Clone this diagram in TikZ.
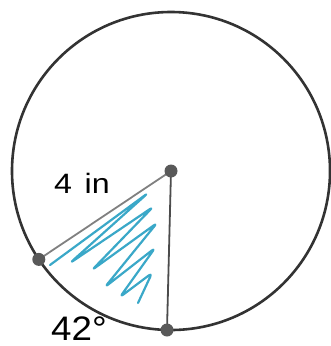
\documentclass[tikz,border=0pt]{standalone}
\usepackage{fontspec}
\setmainfont{Liberation Sans}
\begin{document}
\begin{tikzpicture}[x=1pt,y=-1pt,
  rim/.style={draw=black!80,line width=2.6pt},
  radius line/.style={draw=black!70,line width=1.8pt},
  ptdot/.style={circle,fill=black!65,inner sep=0pt,minimum size=13pt},
  scribble/.style={draw={rgb,255:red,58;green,168;blue,200},line width=2.2pt,rounded corners=4pt,line join=round,line cap=round},
  lbl/.style={inner sep=0pt,font=\fontsize{28}{28}\selectfont}]
\useasboundingbox (0,0) rectangle (330,346);
\coordinate (c) at (171,171);
\draw[rim] (c) circle[radius=159];
\coordinate (l) at (38.8,259.4);
\coordinate (b) at (167,330);
% scribble
\draw[scribble] (50,265) -- (148,193) -- (70,263) -- (153,207) -- (92,270) -- (157,223) -- (105,287) -- (155,248) -- (120,297) -- (152,273) -- (138,303);
\draw[radius line,draw=black!50] (c) -- (l);
\draw[radius line] (c) -- (b);
\node[ptdot] (O) at (c) {};
\node[ptdot] (L) at (l) {};
\node[ptdot] (B) at (b) {};
\node[lbl,anchor=base west] (r) at (54,193) {\scalebox{1.15}[1]{4\hspace{11pt}in}};
\node[lbl,anchor=base west,font=\fontsize{34}{34}\selectfont] (a) at (51,340) {\scalebox{1.08}[1]{42°}};
\end{tikzpicture}
\end{document}
